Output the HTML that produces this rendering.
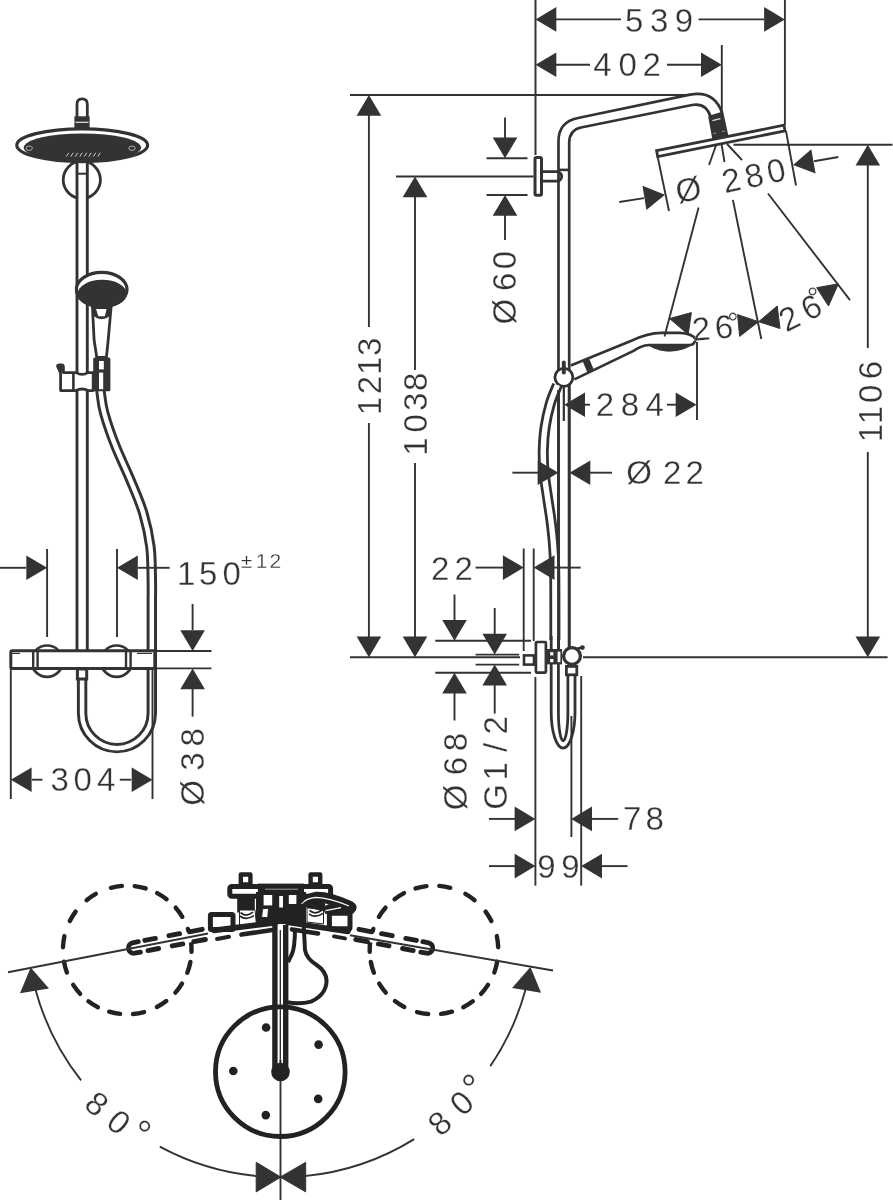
<!DOCTYPE html>
<html lang="en">
<head>
<meta charset="utf-8">
<title>Shower system dimensional drawing</title>
<style>
html,body{margin:0;padding:0;background:#fff;}
body{width:893px;height:1200px;overflow:hidden;}
svg{display:block;will-change:transform;}
svg text{font-family:"Liberation Sans",sans-serif;fill:#333333;stroke:#fff;stroke-width:0.3px;text-anchor:middle;}
</style>
</head>
<body>
<svg width="893" height="1200" viewBox="0 0 893 1200" fill="none" stroke="#333333">
<g id="side-view">
<path d="M558.5 650 V141 Q558.5 122 578 118 L690 94.6 Q714 90 722 112.5" stroke-width="2.7" fill="none" />
<path d="M569.2 650 V143 Q569.2 130 581 127.5 L692 105 Q706 102.5 710.8 117" stroke-width="2.7" fill="none" />
<rect x="535" y="157.6" width="6.5" height="37.6" rx="1.5" stroke-width="3" fill="#fff"/>
<path d="M542.5 171.7 H558.5 Q565 176.4 558.5 181.1 H542.5" stroke-width="2.8" fill="none" />
<line x1="559" y1="169.9" x2="569.5" y2="169.9" stroke-width="2.6" />
<polygon points="709.2,116.6 722.4,112.6 727.6,137 713.6,140.6" fill="#333333" stroke="#333333" stroke-width="2" stroke-linejoin="round"/>
<line x1="712.4" y1="120.6" x2="720.4" y2="118.6" stroke-width="1.2" stroke="#ddd"/>
<line x1="713.4" y1="133.6" x2="716" y2="133" stroke-width="1" stroke="#999"/>
<line x1="722" y1="131.6" x2="725" y2="131" stroke-width="1" stroke="#999"/>
<polygon points="656.6,150.7 784,125.2 785,130.9 657.7,156.6" fill="#fff" stroke="#333333" stroke-width="2.8" stroke-linejoin="miter"/>
<path d="M570.8 365.5 L632 340.4 Q648 333.2 661 332.9 H680 Q692 333.4 695.6 339.2 Q694.5 344.8 690 345 H649 Q641 345.6 634 350.6 L574.4 379.4" stroke-width="2.7" fill="none" />
<path d="M648 345 Q660 352 672 351 Q684 350 691.5 345 Z" stroke-width="1" fill="#333333" />
<line x1="586" y1="360.2" x2="590.8" y2="371.6" stroke-width="7" />
<circle cx="563.9" cy="377.3" r="9" stroke-width="2.8" fill="#fff"/>
<path d="M563.8 362.6 V372.5" stroke-width="4" fill="none" stroke-linecap="round"/>
<path d="M557.5 385 C556.3 388.1 552.4 396.4 550.4 403.3 C548.4 410.2 546.4 418.8 545.2 426.6 C544 434.4 543.5 442.2 543.3 450 C543.1 457.8 543.5 465.5 544.2 473.3 C544.9 481.1 546.3 488.8 547.4 496.6 C548.5 504.4 549.9 512.2 550.9 520 C551.9 527.8 552.8 535.5 553.4 543.3 C554 551.1 554.4 555 554.6 566.6 C554.9 578.2 554.9 600.8 554.9 613 C554.9 625.2 554.9 635.5 554.9 640" stroke-width="11" fill="none" stroke-linecap="butt"/>
<path d="M557.5 385 C556.3 388.1 552.4 396.4 550.4 403.3 C548.4 410.2 546.4 418.8 545.2 426.6 C544 434.4 543.5 442.2 543.3 450 C543.1 457.8 543.5 465.5 544.2 473.3 C544.9 481.1 546.3 488.8 547.4 496.6 C548.5 504.4 549.9 512.2 550.9 520 C551.9 527.8 552.8 535.5 553.4 543.3 C554 551.1 554.4 555 554.6 566.6 C554.9 578.2 554.9 600.8 554.9 613 C554.9 625.2 554.9 635.5 554.9 640" stroke-width="5.4" fill="none" stroke="#fff" stroke-linecap="butt"/>
<path d="M551.2 636 V712 A11.9 36.1 0 0 0 575 712 V676" stroke-width="2.8" fill="none" />
<path d="M558.4 636 V712 A4.75 28.8 0 0 0 567.9 712 V676" stroke-width="2.8" fill="none" />
<path d="M558.5 650 V390" stroke-width="2.7" fill="none" />
<path d="M569.2 650 V386" stroke-width="2.7" fill="none" />
<line x1="563.8" y1="385" x2="563.8" y2="421" stroke-width="1.9" />
<rect x="524" y="655.4" width="10" height="9.2" stroke-width="2.6" fill="#fff"/>
<rect x="535.9" y="642" width="10" height="30.6" rx="1" stroke-width="2.7" fill="#fff"/>
<rect x="547" y="649" width="15" height="15.4" fill="#333333" stroke="none"/>
<rect x="550.2" y="652.2" width="3.2" height="3.2" fill="#fff" stroke="none"/>
<rect x="550.2" y="659" width="3.2" height="3.2" fill="#fff" stroke="none"/>
<rect x="557.6" y="651.6" width="2.8" height="10.6" fill="#fff" stroke="none"/>
<circle cx="572" cy="656" r="8.4" stroke-width="3.3" fill="#fff"/>
<circle cx="582.4" cy="647.6" r="2.4" fill="#333333" stroke="none"/>
<line x1="576" y1="649" x2="582.4" y2="647.6" stroke-width="2.6" />
<rect x="566.4" y="666.4" width="10.4" height="8.4" stroke-width="2.8" fill="#fff"/>
<line x1="535.5" y1="0" x2="535.5" y2="155" stroke-width="2" />
<line x1="784.9" y1="0" x2="784.9" y2="125" stroke-width="1.9" />
<line x1="721.8" y1="45" x2="721.8" y2="112" stroke-width="1.9" />
<polygon points="535.5,19.4 556.3,7.1 556.3,31.7" fill="#333333" stroke="none"/>
<polygon points="784.9,19.4 764.1,31.7 764.1,7.1" fill="#333333" stroke="none"/>
<line x1="556" y1="19.4" x2="621" y2="19.4" stroke-width="1.9" />
<line x1="698.6" y1="19.4" x2="764" y2="19.4" stroke-width="1.9" />
<text x="634.2 659.3 684" y="31.5" font-size="33" >539</text>
<polygon points="535.5,64.7 556.3,52.4 556.3,77" fill="#333333" stroke="none"/>
<polygon points="721.8,64.7 701,77 701,52.4" fill="#333333" stroke="none"/>
<line x1="556" y1="64.7" x2="590" y2="64.7" stroke-width="1.9" />
<line x1="667" y1="64.7" x2="701" y2="64.7" stroke-width="1.9" />
<text x="602.5 627.6 651.8" y="76" font-size="33" >402</text>
<line x1="350" y1="95" x2="690" y2="95" stroke-width="1.9" />
<line x1="350" y1="657.3" x2="520" y2="657.3" stroke-width="1.9" />
<line x1="583" y1="657.3" x2="887.6" y2="657.3" stroke-width="1.9" />
<polygon points="368.9,95 381.2,115.8 356.6,115.8" fill="#333333" stroke="none"/>
<polygon points="368.9,657.3 356.6,636.5 381.2,636.5" fill="#333333" stroke="none"/>
<line x1="368.9" y1="115" x2="368.9" y2="327" stroke-width="1.9" />
<line x1="368.9" y1="423" x2="368.9" y2="637" stroke-width="1.9" />
<text transform="translate(380.6,406) rotate(-90)" x="0 21 40.3 59.3" y="0" font-size="33">1213</text>
<line x1="396" y1="176.5" x2="533.5" y2="176.5" stroke-width="1.9" />
<polygon points="415,176.5 427.3,197.3 402.7,197.3" fill="#333333" stroke="none"/>
<polygon points="415,657.3 402.7,636.5 427.3,636.5" fill="#333333" stroke="none"/>
<line x1="415" y1="196" x2="415" y2="370" stroke-width="1.9" />
<line x1="415" y1="463" x2="415" y2="637" stroke-width="1.9" />
<text transform="translate(427.3,446.7) rotate(-90)" x="0 23.4 45 65" y="0" font-size="33">1038</text>
<line x1="486.5" y1="158.3" x2="527.5" y2="158.3" stroke-width="1.9" />
<line x1="486.5" y1="195" x2="527.5" y2="195" stroke-width="1.9" />
<polygon points="505,158.3 492.7,137.5 517.3,137.5" fill="#333333" stroke="none"/>
<polygon points="505,195 517.3,215.8 492.7,215.8" fill="#333333" stroke="none"/>
<line x1="505" y1="117.5" x2="505" y2="138" stroke-width="1.9" />
<line x1="505" y1="215" x2="505" y2="240" stroke-width="1.9" />
<text transform="translate(516.3,311.7) rotate(-90)" x="0 30 51.7" y="0" font-size="33">Ø60</text>
<line x1="733.5" y1="144.8" x2="892.5" y2="144.8" stroke-width="1.9" />
<polygon points="867.8,144.8 880.1,165.6 855.5,165.6" fill="#333333" stroke="none"/>
<polygon points="867.8,657.3 855.5,636.5 880.1,636.5" fill="#333333" stroke="none"/>
<line x1="867.8" y1="165" x2="867.8" y2="348" stroke-width="1.9" />
<line x1="867.8" y1="452" x2="867.8" y2="637" stroke-width="1.9" />
<text transform="translate(881.5,433) rotate(-90)" x="0 18 39.3 63" y="0" font-size="33">1106</text>
<line x1="697" y1="342" x2="697" y2="420" stroke-width="1.9" />
<line x1="563.8" y1="385" x2="563.8" y2="421" stroke-width="1.9" />
<polygon points="564.2,404.7 585,392.4 585,417" fill="#333333" stroke="none"/>
<polygon points="696.5,404.7 675.7,417 675.7,392.4" fill="#333333" stroke="none"/>
<line x1="585" y1="404.7" x2="590" y2="404.7" stroke-width="1.9" />
<line x1="667" y1="404.7" x2="676" y2="404.7" stroke-width="1.9" />
<text x="605 630 654.6" y="415.7" font-size="33" >284</text>
<polygon points="558.4,472.7 537.6,485 537.6,460.4" fill="#333333" stroke="none"/>
<polygon points="569.5,472.7 590.3,460.4 590.3,485" fill="#333333" stroke="none"/>
<line x1="512.4" y1="472.7" x2="538" y2="472.7" stroke-width="1.9" />
<line x1="590" y1="472.7" x2="612" y2="472.7" stroke-width="1.9" />
<text x="639 672.3 694.6" y="484.2" font-size="33" >Ø22</text>
<line x1="523.7" y1="548.5" x2="523.7" y2="651" stroke-width="1.9" />
<line x1="533.7" y1="548.5" x2="533.7" y2="641" stroke-width="1.9" />
<polygon points="523.7,567.6 502.9,579.9 502.9,555.3" fill="#333333" stroke="none"/>
<polygon points="533.7,567.6 554.5,555.3 554.5,579.9" fill="#333333" stroke="none"/>
<line x1="475.6" y1="567.6" x2="503" y2="567.6" stroke-width="1.9" />
<line x1="554" y1="567.6" x2="580.7" y2="567.6" stroke-width="1.9" />
<text x="440.3 463.8" y="579.5" font-size="33" >22</text>
<line x1="435.3" y1="640.8" x2="531" y2="640.8" stroke-width="1.9" />
<line x1="435.3" y1="672.8" x2="531" y2="672.8" stroke-width="1.9" />
<polygon points="454.5,640.8 442.2,620 466.8,620" fill="#333333" stroke="none"/>
<polygon points="454.5,672.8 466.8,693.6 442.2,693.6" fill="#333333" stroke="none"/>
<line x1="454.5" y1="594.5" x2="454.5" y2="620" stroke-width="1.9" />
<line x1="454.5" y1="693" x2="454.5" y2="720.5" stroke-width="1.9" />
<text transform="translate(466.6,797.4) rotate(-90)" x="0 31.4 55.4" y="0" font-size="33">Ø68</text>
<line x1="475.6" y1="654.6" x2="519.2" y2="654.6" stroke-width="1.9" />
<line x1="475.6" y1="664.6" x2="519.2" y2="664.6" stroke-width="1.9" />
<polygon points="494.7,654.6 482.4,633.8 507,633.8" fill="#333333" stroke="none"/>
<polygon points="494.7,664.6 507,685.4 482.4,685.4" fill="#333333" stroke="none"/>
<line x1="494.7" y1="608" x2="494.7" y2="634" stroke-width="1.9" />
<line x1="494.7" y1="685" x2="494.7" y2="713.6" stroke-width="1.9" />
<text transform="translate(506.6,797) rotate(-90)" x="0 25.8 49.7 71.7" y="0" font-size="33">G1/2</text>
<line x1="535.4" y1="677" x2="535.4" y2="885.6" stroke-width="1.9" />
<line x1="571.4" y1="716" x2="571.4" y2="837" stroke-width="1.9" />
<line x1="581.2" y1="676" x2="581.2" y2="885.6" stroke-width="1.9" />
<polygon points="535.4,818.9 514.6,831.2 514.6,806.6" fill="#333333" stroke="none"/>
<polygon points="571.2,818.9 592,806.6 592,831.2" fill="#333333" stroke="none"/>
<line x1="489" y1="818.9" x2="515" y2="818.9" stroke-width="1.9" />
<line x1="592" y1="818.9" x2="618.2" y2="818.9" stroke-width="1.9" />
<text x="632.3 654.8" y="830" font-size="33" >78</text>
<polygon points="535.4,866.1 514.6,878.4 514.6,853.8" fill="#333333" stroke="none"/>
<polygon points="581.2,866.1 602,853.8 602,878.4" fill="#333333" stroke="none"/>
<line x1="489" y1="866.1" x2="515" y2="866.1" stroke-width="1.9" />
<line x1="602" y1="866.1" x2="627.6" y2="866.1" stroke-width="1.9" />
<text x="546.5 570.5" y="877.8" font-size="33" >99</text>
<line x1="716.5" y1="144" x2="709" y2="165" stroke-width="1.9" />
<line x1="721.5" y1="144" x2="724.5" y2="162" stroke-width="1.9" />
<line x1="727" y1="144" x2="742" y2="160" stroke-width="1.9" />
<line x1="698.6" y1="207.5" x2="664.5" y2="336.4" stroke-width="1.9" />
<line x1="732.9" y1="200" x2="761.3" y2="339" stroke-width="1.9" />
<line x1="768" y1="193.5" x2="850" y2="300.2" stroke-width="1.9" />
<polygon points="669.6,318.6 691.4,312.6 688.2,334.4" fill="#333333"/>
<polygon points="758.6,321.7 737.6,314.6 739.6,336.4" fill="#333333"/>
<polygon points="758.6,321.7 777.2,306 780,328.5" fill="#333333"/>
<polygon points="838.4,283.8 816.7,287.7 828.5,306" fill="#333333"/>
<text transform="translate(713.5,339.3) rotate(-5)" x="-11.5 11.5" y="0" font-size="33">26</text>
<text transform="translate(732.8,316.6) rotate(-5)" x="0" y="16.2" font-size="29">°</text>
<text transform="translate(805.5,323) rotate(-27)" x="-12.3 12.3" y="0" font-size="33">26</text>
<text transform="translate(812.5,291.5) rotate(-27)" x="0" y="16.2" font-size="29">°</text>
<line x1="657.6" y1="156.5" x2="669" y2="211" stroke-width="1.9" />
<line x1="786" y1="131" x2="796" y2="185.5" stroke-width="1.9" />
<polygon points="665,194.7 646.4,210.1 642.5,185.8" fill="#333333" stroke="none"/>
<line x1="619.3" y1="202" x2="644" y2="198.1" stroke-width="1.9" />
<polygon points="793,165 811.3,149.3 815.6,173.5" fill="#333333" stroke="none"/>
<line x1="838.3" y1="157" x2="814" y2="161.3" stroke-width="1.9" />
<text transform="translate(754.2,175.7) rotate(-12.2)" x="-67.3 -45 -23.4 0 22.4" y="11" font-size="33">Ø 280</text>
</g>
<g id="front-view">
<circle cx="81.8" cy="179.8" r="18.6" stroke-width="2.8" fill="none"/>
<rect x="77" y="160" width="10.3" height="491" fill="#fff" stroke="none"/>
<line x1="77" y1="160" x2="77" y2="651" stroke-width="2.9" />
<line x1="87.3" y1="160" x2="87.3" y2="651" stroke-width="2.9" />
<line x1="77" y1="173.7" x2="87.3" y2="173.7" stroke-width="2" />
<path d="M77 117 V104 Q77 98.8 82.1 98.8 Q87.3 98.8 87.3 104 V117" stroke-width="2.8" fill="#fff" />
<rect x="74.4" y="116.3" width="15.2" height="12" fill="#333333" stroke="none"/>
<line x1="75.5" y1="122.3" x2="88.5" y2="122.3" stroke-width="1.2" stroke="#e6e6e6"/>
<ellipse cx="82.2" cy="145.2" rx="65.4" ry="16.4" stroke-width="3.2" fill="#fff"/>
<ellipse cx="82.4" cy="147.6" rx="58.7" ry="14.2" fill="#333333" stroke="none"/>
<ellipse cx="29.2" cy="148.2" rx="3.2" ry="2.2" stroke="#ccc" stroke-width="0.8" fill="none"/>
<ellipse cx="132" cy="148.2" rx="3.2" ry="2.2" stroke="#ccc" stroke-width="0.8" fill="none"/>
<line x1="68.7" y1="152.8" x2="66.3" y2="156.6" stroke-width="0.9" stroke="#e0e0e0"/>
<line x1="73.2" y1="152.8" x2="70.8" y2="156.6" stroke-width="0.9" stroke="#e0e0e0"/>
<line x1="77.7" y1="152.8" x2="75.3" y2="156.6" stroke-width="0.9" stroke="#e0e0e0"/>
<line x1="82.2" y1="152.8" x2="79.8" y2="156.6" stroke-width="0.9" stroke="#e0e0e0"/>
<line x1="86.7" y1="152.8" x2="84.3" y2="156.6" stroke-width="0.9" stroke="#e0e0e0"/>
<line x1="91.2" y1="152.8" x2="88.8" y2="156.6" stroke-width="0.9" stroke="#e0e0e0"/>
<line x1="95.7" y1="152.8" x2="93.3" y2="156.6" stroke-width="0.9" stroke="#e0e0e0"/>
<line x1="100.2" y1="152.8" x2="97.8" y2="156.6" stroke-width="0.9" stroke="#e0e0e0"/>
<path d="M100.4 388 C100.5 388.9 100.2 389.1 100.8 393.3 C101.4 397.5 101.8 404.4 104.3 413.3 C106.8 422.2 111.4 435.6 115.8 446.7 C120.2 457.8 125.8 468.9 130.4 480 C135 491.1 140 502.2 143.3 513.3 C146.6 524.4 149 535.6 150.4 546.7 C151.8 557.8 151.6 571.1 151.8 580 C152 588.9 151.8 596.7 151.8 600 V713.3 A34.85 34.85 0 0 1 82.1 713.3 V680" stroke-width="10.4" fill="none" />
<path d="M100.4 388 C100.5 388.9 100.2 389.1 100.8 393.3 C101.4 397.5 101.8 404.4 104.3 413.3 C106.8 422.2 111.4 435.6 115.8 446.7 C120.2 457.8 125.8 468.9 130.4 480 C135 491.1 140 502.2 143.3 513.3 C146.6 524.4 149 535.6 150.4 546.7 C151.8 557.8 151.6 571.1 151.8 580 C152 588.9 151.8 596.7 151.8 600 V713.3 A34.85 34.85 0 0 1 82.1 713.3 V680" stroke-width="4.5" fill="none" stroke="#fff"/>
<line x1="152.5" y1="668.4" x2="152.5" y2="799" stroke-width="1.9" />
<ellipse cx="101.7" cy="289.5" rx="25.3" ry="17.2" stroke-width="3.2" fill="#fff"/>
<ellipse cx="102.2" cy="293.8" rx="24.6" ry="14" fill="#333333" stroke="none"/>
<path d="M92.5 308 L94.1 340 L96.8 357.5 H106.4 L108.2 340 L111 308 Z" stroke-width="2.8" fill="#fff" />
<path d="M92.5 306 H111 L110.4 315 Q101.6 322.5 93 315 Z" stroke-width="1" fill="#333333" />
<path d="M96 309 H106.6 L104.8 316.2 H98.4 Z" stroke-width="1" fill="#fff" stroke="none"/>
<rect x="93.2" y="357.5" width="17.2" height="33.8" rx="1.5" fill="#333333" stroke="none"/>
<rect x="99" y="361" width="4.8" height="8.4" fill="#fff" stroke="none"/>
<rect x="99" y="372.6" width="4.2" height="16.6" fill="#fff" stroke="none"/>
<path d="M57.6 366.4 Q57.2 365 59.4 365 H61.8 Q63.6 365 63.4 367.4 V372.6 H76 Q82 376 88 372.6 H93.2 V390.6 H88 Q82 387.4 76 390.6 H60.6 V373 Z" stroke-width="2.8" fill="#fff" stroke-linejoin="round"/>
<line x1="73.4" y1="373" x2="73.4" y2="390.6" stroke-width="2.6" />
<polygon points="57.4,365 63.4,365 63.4,372 60,372" fill="#333333" stroke="none"/>
<circle cx="47.1" cy="661.2" r="15.7" stroke-width="2.7" fill="#fff"/>
<circle cx="116.6" cy="661.2" r="15.7" stroke-width="2.7" fill="#fff"/>
<rect x="10.8" y="650.8" width="144" height="17.7" rx="1.5" stroke-width="3" fill="#fff"/>
<line x1="33.2" y1="651" x2="33.2" y2="668.4" stroke-width="2.4" />
<line x1="37.6" y1="651" x2="37.6" y2="668.4" stroke-width="2.4" />
<line x1="126" y1="651" x2="126" y2="668.4" stroke-width="2.4" />
<line x1="130.6" y1="651" x2="130.6" y2="668.4" stroke-width="2.4" />
<line x1="12" y1="653.4" x2="20" y2="653.4" stroke-width="1.2" />
<line x1="137" y1="653.4" x2="152" y2="653.4" stroke-width="1.2" />
<rect x="77.4" y="669" width="9.3" height="10" stroke-width="3" fill="#fff"/>
<line x1="47.1" y1="549" x2="47.1" y2="637" stroke-width="1.9" />
<line x1="117" y1="549" x2="117" y2="637" stroke-width="1.9" />
<polygon points="47.1,567.8 26.3,580.1 26.3,555.5" fill="#333333" stroke="none"/>
<polygon points="117,567.8 137.8,555.5 137.8,580.1" fill="#333333" stroke="none"/>
<line x1="0" y1="567.8" x2="26" y2="567.8" stroke-width="1.9" />
<line x1="138" y1="567.8" x2="169.6" y2="567.8" stroke-width="1.9" />
<text x="186.2 208.2 231.8" y="585" font-size="33" >150</text>
<text x="246.6 261.6 275.4" y="567.6" font-size="21" >±12</text>
<line x1="156.5" y1="651" x2="211.5" y2="651" stroke-width="1.9" />
<line x1="156.5" y1="668.4" x2="211.5" y2="668.4" stroke-width="1.9" />
<polygon points="192.6,651 180.3,630.2 204.9,630.2" fill="#333333" stroke="none"/>
<polygon points="192.6,668.4 204.9,689.2 180.3,689.2" fill="#333333" stroke="none"/>
<line x1="192.6" y1="604" x2="192.6" y2="630" stroke-width="1.9" />
<line x1="192.6" y1="689" x2="192.6" y2="716.6" stroke-width="1.9" />
<text transform="translate(204.3,793) rotate(-90)" x="0 31.4 55.8" y="0" font-size="33">Ø38</text>
<line x1="10.8" y1="668.4" x2="10.8" y2="799" stroke-width="1.9" />
<polygon points="10.8,779.7 31.6,767.4 31.6,792" fill="#333333" stroke="none"/>
<polygon points="152.5,779.7 131.7,792 131.7,767.4" fill="#333333" stroke="none"/>
<line x1="32" y1="779.7" x2="42.5" y2="779.7" stroke-width="1.9" />
<line x1="119.8" y1="779.7" x2="131.3" y2="779.7" stroke-width="1.9" />
<text x="59.6 82.6 106.3" y="791" font-size="33" >304</text>
</g>
<g id="top-view">
<path d="M35.4 989.2 A253.7 253.7 0 0 0 81.1 1080.4" stroke-width="1.9" fill="none" />
<path d="M159.8 1146.7 A253.7 253.7 0 0 0 256.6 1176.1" stroke-width="1.9" fill="none" />
<path d="M525.6 989.2 A253.7 253.7 0 0 1 490.3 1066.1" stroke-width="1.9" fill="none" />
<path d="M414.2 1139.1 A253.7 253.7 0 0 1 304.4 1176.1" stroke-width="1.9" fill="none" />
<polygon points="30.7,967.6 49,988.4 20,993.2" fill="#333333" stroke="none"/>
<polygon points="530.4,967.1 541.1,992.8 512.1,988" fill="#333333" stroke="none"/>
<polygon points="280.8,1177.1 256.2,1162.3 256.2,1191.9" fill="#333333"/>
<polygon points="280.2,1177.1 305.7,1162.3 305.7,1191.9" fill="#333333"/>
<text transform="translate(107.5,1113.3) rotate(39.6)" x="-14.3 14.3" y="11" font-size="33">80</text>
<text transform="translate(144.8,1126) rotate(39.6)" x="0" y="22.4" font-size="40">°</text>
<text transform="translate(451,1113.3) rotate(-43)" x="-15 15" y="11" font-size="33">80</text>
<text transform="translate(468.6,1080.2) rotate(-43)" x="0" y="22.4" font-size="40">°</text>
<line x1="280.5" y1="1060" x2="280.5" y2="1200" stroke-width="1.9" />
<g stroke="#222">
<path d="M303.8 927 L305 950 Q306.5 958.5 316 964.5 Q326.5 971.5 326.6 981 Q326 995 311 1001.6 Q300 1004.6 287 1002.3" stroke-width="4" fill="none" />
<path d="M295 930 Q294.8 948 291.8 954.4 L288 962" stroke-width="4" fill="none" />
<circle cx="280.3" cy="1071.7" r="64.8" stroke-width="4.8" fill="none"/>
<circle cx="266.1" cy="1027.5" r="4.3" fill="#222" stroke="none"/>
<circle cx="233.3" cy="1071" r="4.3" fill="#222" stroke="none"/>
<circle cx="265.8" cy="1115.1" r="4.3" fill="#222" stroke="none"/>
<circle cx="318.6" cy="1044.6" r="4.3" fill="#222" stroke="none"/>
<circle cx="318.2" cy="1098.9" r="4.3" fill="#222" stroke="none"/>
<line x1="274.9" y1="925" x2="274.9" y2="1070" stroke-width="5.4" />
<line x1="285.7" y1="925" x2="285.7" y2="1070" stroke-width="5.4" />
<line x1="280.3" y1="930" x2="280.3" y2="1072" stroke-width="1.3" />
<circle cx="280.5" cy="1072" r="9.3" fill="#222" stroke="none"/>
</g>
<g>
<path d="M190.4 962A64.3 64.3 0 0 1 187.3 972.8M182 983.6A64.3 64.3 0 0 1 175.4 992.6M166.3 1001A64.3 64.3 0 0 1 156.9 1007M144.1 1012.1A64.3 64.3 0 0 1 133 1014M120.1 1013.9A64.3 64.3 0 0 1 109.2 1011.7M97.9 1007.2A64.3 64.3 0 0 1 88.4 1001.3M80.1 993.8A64.3 64.3 0 0 1 73.2 984.9M66.9 972.4A64.3 64.3 0 0 1 64 961.6M63 947.2A64.3 64.3 0 0 1 64.4 936.1M69.8 921.1A64.3 64.3 0 0 1 75.6 911.6M86.6 900.2A64.3 64.3 0 0 1 95.8 893.9M110.9 887.8A64.3 64.3 0 0 1 121.9 885.9M134.7 886.1A64.3 64.3 0 0 1 145.7 888.4M157.2 893.1A64.3 64.3 0 0 1 166.6 899.2M175.7 907.7A64.3 64.3 0 0 1 182.3 916.8M187.9 928.9A64.3 64.3 0 0 1 190.7 939.7M190.7 939.7A64.3 64.3 0 0 1 191.5 951.9" stroke-width="4.4" fill="none" stroke-linecap="round" stroke="#222"/>
<polygon points="132.5,942.8 207.1,928.4 209.1,938.8 134.5,953.2" fill="#fff" stroke="none"/>
<line x1="144.8" y1="940.4" x2="155.4" y2="938.4" stroke-width="4.9" stroke-linecap="round" stroke="#222"/>
<line x1="169" y1="935.7" x2="179.6" y2="933.7" stroke-width="4.9" stroke-linecap="round" stroke="#222"/>
<line x1="189.4" y1="931.8" x2="202.2" y2="929.3" stroke-width="4.9" stroke-linecap="round" stroke="#222"/>
<line x1="148" y1="950.6" x2="158.6" y2="948.5" stroke-width="4.9" stroke-linecap="round" stroke="#222"/>
<line x1="172.2" y1="945.9" x2="182.8" y2="943.9" stroke-width="4.9" stroke-linecap="round" stroke="#222"/>
<line x1="193.8" y1="941.7" x2="205.4" y2="939.5" stroke-width="4.9" stroke-linecap="round" stroke="#222"/>
<path d="M138.4 941.7 L132.5 942.8 A5.3 5.3 0 0 0 134.5 953.2 L140.4 952.1" stroke-width="4.8" fill="none" stroke-linecap="round" stroke="#222"/>
</g>
<g transform="translate(561.2,0) scale(-1,1)">
<path d="M190.4 962A64.3 64.3 0 0 1 187.3 972.8M182 983.6A64.3 64.3 0 0 1 175.4 992.6M166.3 1001A64.3 64.3 0 0 1 156.9 1007M144.1 1012.1A64.3 64.3 0 0 1 133 1014M120.1 1013.9A64.3 64.3 0 0 1 109.2 1011.7M97.9 1007.2A64.3 64.3 0 0 1 88.4 1001.3M80.1 993.8A64.3 64.3 0 0 1 73.2 984.9M66.9 972.4A64.3 64.3 0 0 1 64 961.6M63 947.2A64.3 64.3 0 0 1 64.4 936.1M69.8 921.1A64.3 64.3 0 0 1 75.6 911.6M86.6 900.2A64.3 64.3 0 0 1 95.8 893.9M110.9 887.8A64.3 64.3 0 0 1 121.9 885.9M134.7 886.1A64.3 64.3 0 0 1 145.7 888.4M157.2 893.1A64.3 64.3 0 0 1 166.6 899.2M175.7 907.7A64.3 64.3 0 0 1 182.3 916.8M187.9 928.9A64.3 64.3 0 0 1 190.7 939.7M190.7 939.7A64.3 64.3 0 0 1 191.5 951.9" stroke-width="4.4" fill="none" stroke-linecap="round" stroke="#222"/>
<polygon points="132.5,942.8 207.1,928.4 209.1,938.8 134.5,953.2" fill="#fff" stroke="none"/>
<line x1="144.8" y1="940.4" x2="155.4" y2="938.4" stroke-width="4.9" stroke-linecap="round" stroke="#222"/>
<line x1="169" y1="935.7" x2="179.6" y2="933.7" stroke-width="4.9" stroke-linecap="round" stroke="#222"/>
<line x1="189.4" y1="931.8" x2="202.2" y2="929.3" stroke-width="4.9" stroke-linecap="round" stroke="#222"/>
<line x1="148" y1="950.6" x2="158.6" y2="948.5" stroke-width="4.9" stroke-linecap="round" stroke="#222"/>
<line x1="172.2" y1="945.9" x2="182.8" y2="943.9" stroke-width="4.9" stroke-linecap="round" stroke="#222"/>
<line x1="193.8" y1="941.7" x2="205.4" y2="939.5" stroke-width="4.9" stroke-linecap="round" stroke="#222"/>
<path d="M138.4 941.7 L132.5 942.8 A5.3 5.3 0 0 0 134.5 953.2 L140.4 952.1" stroke-width="4.8" fill="none" stroke-linecap="round" stroke="#222"/>
</g>
<line x1="8" y1="972.2" x2="208" y2="933.5" stroke-width="1.9" />
<line x1="553" y1="970.5" x2="350" y2="935.3" stroke-width="1.9" />
<g stroke="#222">
<rect x="240.8" y="874.5" width="9.6" height="10" stroke-width="4.4" stroke-linejoin="round" fill="#fff"/>
<rect x="310.6" y="874.5" width="9.6" height="10" stroke-width="4.4" stroke-linejoin="round" fill="#fff"/>
<rect x="229.8" y="886.5" width="30.6" height="9.8" rx="2" stroke-width="5" fill="#fff"/>
<rect x="300" y="886.5" width="30.6" height="9.8" rx="2" stroke-width="5" fill="#fff"/>
<rect x="258" y="883.6" width="46" height="9.4" fill="#222" stroke="none"/>
<line x1="265" y1="889.2" x2="298" y2="889.2" stroke-width="0.8" stroke="#bbb"/>
<rect x="237.2" y="897" width="17.6" height="15.5" fill="#222" stroke="none"/>
<rect x="307" y="897" width="17.6" height="15.5" fill="#222" stroke="none"/>
<rect x="256" y="892" width="50" height="32" fill="#222" stroke="none"/>
<rect x="263.6" y="895" width="8.6" height="10.4" fill="#fff" stroke="none"/>
<rect x="279.2" y="896" width="3.8" height="11.5" fill="#fff" stroke="none"/>
<rect x="288.8" y="895" width="7.6" height="9" fill="#fff" stroke="none"/>
<polygon points="262.5,908.8 268.5,908.2 267.8,917.6 261.6,917.6" fill="#fff"/>
<polygon points="239.5,910 255,910 256.5,925 239.5,926.6" fill="#fff"/>
<path d="M240.5 912.6 Q246 917.6 253 912.2" stroke-width="1.7" fill="none" />
<path d="M240 916 Q246 921 254 915.6" stroke-width="1.7" fill="none" />
<polygon points="307,908 323.5,908 323.5,924 307,922" fill="#fff"/>
<path d="M309.5 910.4 Q315 915.4 322 910" stroke-width="1.7" fill="none" />
<path d="M309 913.8 Q315 918.8 323 913.4" stroke-width="1.7" fill="none" />
<rect x="210.4" y="914.4" width="22.6" height="15" rx="1" stroke-width="5" fill="#fff"/>
<rect x="329.4" y="913.2" width="20.6" height="15.6" rx="1" stroke-width="5" fill="#fff"/>
<line x1="214" y1="930.4" x2="276" y2="922.6" stroke-width="5.6" stroke-linecap="round"/>
<line x1="241.5" y1="934.6" x2="272" y2="930" stroke-width="4.6" stroke-linecap="round"/>
<line x1="348" y1="931.4" x2="287" y2="922.2" stroke-width="5.6" stroke-linecap="round"/>
<line x1="318" y1="933.4" x2="292" y2="929.4" stroke-width="4.6" stroke-linecap="round"/>
<line x1="217" y1="939" x2="229" y2="936.8" stroke-width="4" stroke-linecap="round"/>
<line x1="334" y1="936.4" x2="345" y2="938.4" stroke-width="4" stroke-linecap="round"/>
<path d="M299 906 Q303 896 316 894 Q330 893.6 351.5 903.6 Q357 907 352 911.5 L325 911.4" stroke-width="4.6" fill="#222" stroke-linejoin="round"/>
<path d="M301.5 904 Q306 898.2 316 897.4 Q330 898 349 906" stroke-width="1.1" fill="none" stroke="#fff"/>
<path d="M325.5 910.6 L341 907.6" stroke-width="1.1" fill="none" stroke="#fff"/>
<polygon points="324.5,902.6 329.8,904.6 324.5,906.4" fill="#fff"/>
<path d="M295 914 Q296.5 903 303 900" stroke-width="3.4" fill="none" />
</g>
</g>
</svg>
</body>
</html>
